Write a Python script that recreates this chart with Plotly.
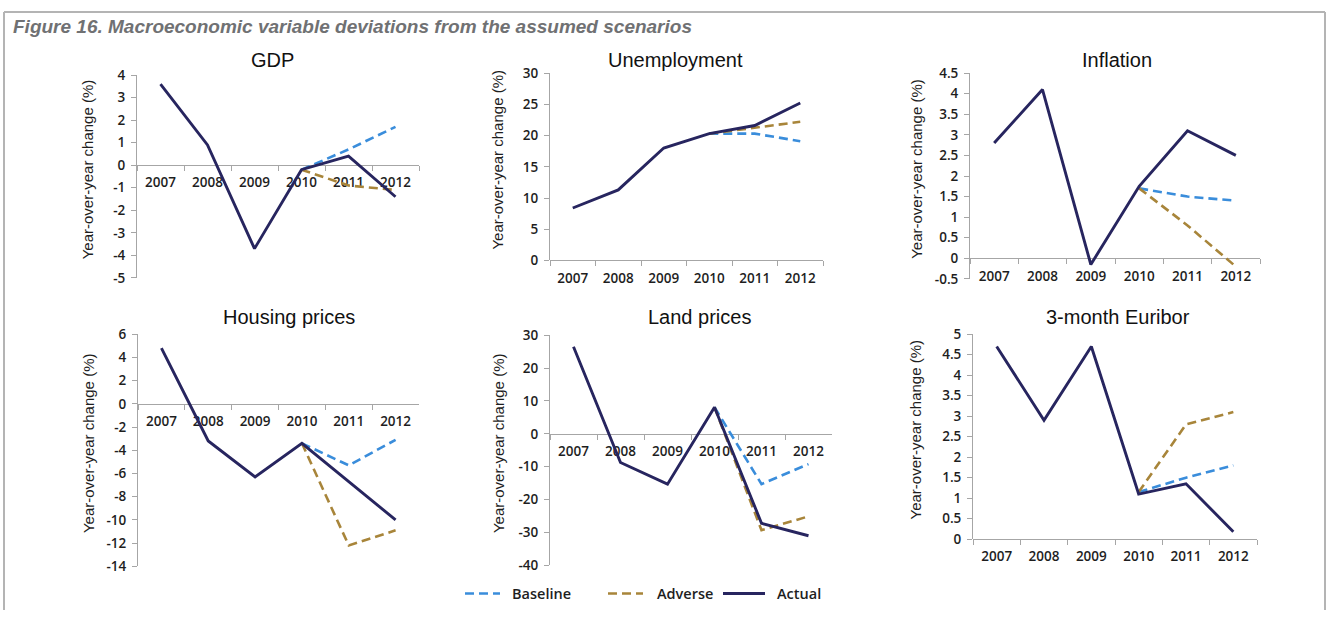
import numpy as np
import plotly.graph_objects as go

# ---- data -------------------------------------------------------------
years = ["2007", "2008", "2009", "2010", "2011", "2012"]

gdp_actual = [3.6, 0.9, -3.7, -0.2, 0.4, -1.4]
gdp_baseline = [None, None, None, -0.2, 0.7, 1.7]
gdp_adverse = [None, None, None, -0.2, -0.9, -1.1]

unemp_actual = [8.4, 11.3, 18.0, 20.3, 21.6, 25.2]
unemp_baseline = [None, None, None, 20.3, 20.3, 19.1]
unemp_adverse = [None, None, None, 20.3, 21.2, 22.2]

infl_actual = [2.8, 4.1, -0.15, 1.75, 3.1, 2.5]
infl_baseline = [None, None, None, 1.7, 1.5, 1.4]
infl_adverse = [None, None, None, 1.7, 0.8, -0.2]

house_actual = [4.8, -3.2, -6.3, -3.4, -6.7, -10.0]
house_baseline = [None, None, None, -3.4, -5.3, -3.1]
house_adverse = [None, None, None, -3.4, -12.2, -10.9]

land_actual = [26.5, -8.7, -15.3, 8.1, -27.2, -31.0]
land_baseline = [None, None, None, 8.1, -15.3, -9.2]
land_adverse = [None, None, None, 8.1, -29.3, -25.1]

euribor_actual = [4.7, 2.9, 4.7, 1.1, 1.35, 0.18]
euribor_baseline = [None, None, None, 1.15, 1.5, 1.8]
euribor_adverse = [None, None, None, 1.15, 2.8, 3.1]

panel_titles = ["GDP", "Unemployment", "Inflation",
                "Housing prices", "Land prices", "3-month Euribor"]
y_title = "Year-over-year change (%)"
series_names = ["Baseline", "Adverse", "Actual"]

# ---- styling ----------------------------------------------------------
W, H = 1326, 619
C_BASE = "#3a8ddb"
C_ADV = "#a8853a"
C_ACT = "#27255f"
AXIS_C = "#a6a6a6"
TXT = "#1e1e1e"
FONT = "Liberation Sans, Arial, sans-serif"
TICK_FONT = "Open Sans, Liberation Sans, sans-serif"

# panel boxes in pixels: (left, right, top, bottom), y range, tick step
panels = [
    dict(title=panel_titles[0], data=(gdp_baseline, gdp_adverse, gdp_actual),
         box=(137, 419, 68, 277), yr=(-5, 4), dt=1),
    dict(title=panel_titles[1], data=(unemp_baseline, unemp_adverse, unemp_actual),
         box=(550, 823, 66, 259), yr=(0, 30), dt=5),
    dict(title=panel_titles[2], data=(infl_baseline, infl_adverse, infl_actual),
         box=(970, 1260, 66, 278), yr=(-0.5, 4.5), dt=0.5),
    dict(title=panel_titles[3], data=(house_baseline, house_adverse, house_actual),
         box=(138, 419, 335, 574), yr=(-14, 6), dt=2),
    dict(title=panel_titles[4], data=(land_baseline, land_adverse, land_actual),
         box=(550, 832, 336, 573), yr=(-40, 30), dt=10),
    dict(title=panel_titles[5], data=(euribor_baseline, euribor_adverse, euribor_actual),
         box=(973, 1257, 335, 546), yr=(0, 5), dt=0.5),
]
title_pos = [(272, 53), (675, 53), (1117, 53), (289, 317), (699, 317), (1118, 317)]
ytitle_x = [87, 498, 917, 88, 498, 915]


def px(x):
    return x / W


def py(y):
    return 1 - y / H


line_styles = [
    dict(color=C_BASE, width=2.6, dash="9px,5px"),
    dict(color=C_ADV, width=2.6, dash="9px,5px"),
    dict(color=C_ACT, width=2.9),
]

fig = go.Figure()
annotations = []
layout_axes = {}
tick_font = dict(family=TICK_FONT, size=13.5, color=TXT, weight=600)

for i, p in enumerate(panels, start=1):
    xa = "x" if i == 1 else f"x{i}"
    ya = "y" if i == 1 else f"y{i}"
    for name, vals, st in zip(series_names, p["data"], line_styles):
        fig.add_trace(go.Scatter(
            x=years, y=vals, mode="lines", name=name, line=st,
            xaxis=xa, yaxis=ya, showlegend=False, connectgaps=False,
            hovertemplate="%{x}: %{y}<extra>" + name + "</extra>",
        ))

    l, r, t, b = p["box"]
    y0, y1 = p["yr"]
    dom_y = [py(b), py(t)]
    zero_pos = dom_y[0] + (0 - y0) / (y1 - y0) * (dom_y[1] - dom_y[0])
    ticks = np.arange(y0, y1 + p["dt"] / 2, p["dt"])
    key = "" if i == 1 else str(i)

    layout_axes["xaxis" + key] = dict(
        domain=[px(l), px(r)], anchor="free", position=zero_pos,
        type="category", range=[-0.5, 5.5], showline=True, linecolor=AXIS_C,
        linewidth=1, ticks="outside", ticklen=5, tickcolor=AXIS_C,
        tickson="boundaries", showgrid=False, zeroline=False,
        tickfont=tick_font, ticklabelstandoff=5, layer="below traces",
        fixedrange=True,
    )
    layout_axes["yaxis" + key] = dict(
        domain=dom_y, anchor=xa, range=[y0, y1], showline=True,
        linecolor=AXIS_C, linewidth=1, ticks="outside", ticklen=5,
        tickcolor=AXIS_C, tickvals=list(ticks),
        ticktext=[f"{v:g}" for v in ticks], showgrid=False, zeroline=False,
        tickfont=tick_font, ticklabelstandoff=3, fixedrange=True,
    )

    tx, tyy = title_pos[i - 1]
    annotations.append(dict(
        text=p["title"], x=px(tx), y=py(tyy), xref="paper", yref="paper",
        showarrow=False, xanchor="center", yanchor="middle",
        font=dict(family=FONT, size=20, color="#111111"),
    ))
    annotations.append(dict(
        text=y_title, x=px(ytitle_x[i - 1]), y=(py(t) + py(b)) / 2 + 0.012,
        xref="paper", yref="paper", showarrow=False, textangle=-90,
        xanchor="center", yanchor="middle",
        font=dict(family=FONT, size=15, color=TXT),
    ))

# figure title
annotations.append(dict(
    text="<b><i>Figure 16. Macroeconomic variable deviations from the assumed scenarios</i></b>",
    x=px(11), y=py(18), xref="paper", yref="paper", showarrow=False,
    xanchor="left", yanchor="middle",
    font=dict(family=FONT, size=19, color="#707173"),
))

# legend row under the middle panel
shapes = []
legend_items = [(465, 500, 510), (608, 643, 655), (723, 765, 775)]
for (x0, x1, xt), name, st in zip(legend_items, series_names, line_styles):
    shapes.append(dict(type="line", xref="paper", yref="paper",
                       x0=px(x0), x1=px(x1), y0=py(602), y1=py(602),
                       line=st))
    annotations.append(dict(
        text=name, x=px(xt), y=py(602), xref="paper", yref="paper",
        showarrow=False, xanchor="left", yanchor="middle",
        font=dict(family=TICK_FONT, size=14.5, color=TXT, weight=600),
    ))

# outer frame (top, left, right)
frame = dict(color="#b4b4b4", width=2)
shapes += [
    dict(type="line", xref="paper", yref="paper", x0=px(4), x1=px(1325),
         y0=py(3), y1=py(3), line=frame),
    dict(type="line", xref="paper", yref="paper", x0=px(4), x1=px(4),
         y0=py(3), y1=0, line=frame),
    dict(type="line", xref="paper", yref="paper", x0=px(1325), x1=px(1325),
         y0=py(3), y1=0, line=frame),
]

fig.update_layout(
    width=W, height=H, autosize=False,
    margin=dict(l=0, r=0, t=0, b=0),
    paper_bgcolor="white", plot_bgcolor="white",
    showlegend=False, annotations=annotations, shapes=shapes,
    **layout_axes,
)

fig.write_html("out.html", config={"displayModeBar": False})
